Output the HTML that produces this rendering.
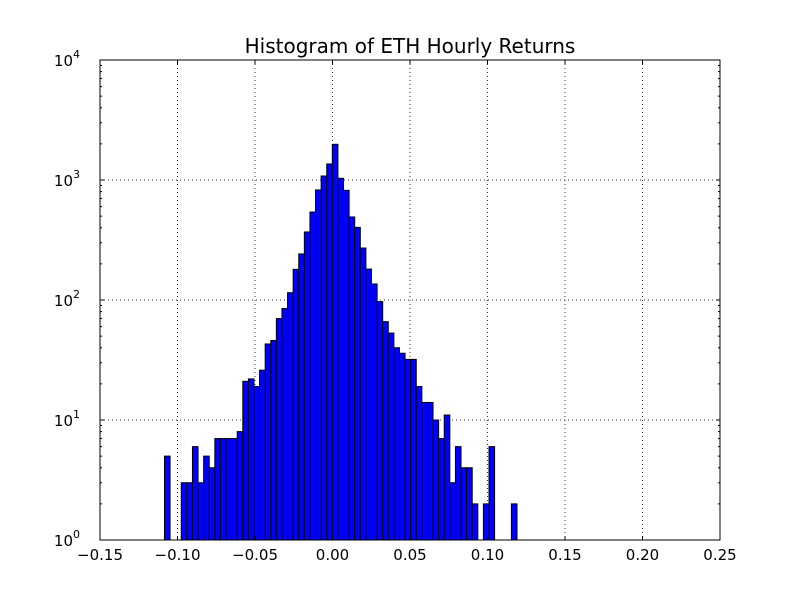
<!DOCTYPE html>
<html><head><meta charset="utf-8"><style>
body{margin:0;background:#fff;}
svg{display:block;font-family:"DejaVu Sans","Liberation Sans",sans-serif;}
</style></head><body>
<svg id="chart" width="800" height="600" viewBox="0 0 800 600" xmlns="http://www.w3.org/2000/svg">
<rect width="800" height="600" fill="#fff"/>
<text x="410" y="53" text-anchor="middle" font-size="20">Histogram of ETH Hourly Returns</text>
<g id="grid"></g><g id="bars"></g><g id="ticks"></g>
<rect x="100" y="60" width="620" height="480" fill="none" stroke="#000" stroke-width="1"/>
</svg>
<script>
const binStart = -0.1409;
const binWidth = 0.00361;
const counts = [1,0,1,0,1,0,1,0,0,5,0,1,3,3,6,3,5,4,7,7,7,7,8,21,22,19,26,43,46,70,85,115,180,242,369,541,826,1080,1360,1983,1033,820,492,403,271,181,136,97,66,53,40,36,32,32,19,14,14,10,7,11,3,6,4,4,2,0,2,6,0,0,0,2,0,0,1,1,0,0,1,0,0,0,1,0,0,0,0,0,0,0,0,0,0,0,0,0,0,0,0,1];
const xTicks = [-0.15,-0.10,-0.05,0.00,0.05,0.10,0.15,0.20,0.25];
const xTickLabels = ["−0.15","−0.10","−0.05","0.00","0.05","0.10","0.15","0.20","0.25"];
const yExps = [0,1,2,3,4];

const NS="http://www.w3.org/2000/svg";
const L=100,R=720,T=60,B=540;
const xMin=-0.15,xMax=0.25;
function xs(v){return L+(v-xMin)/(xMax-xMin)*(R-L);}
function ys(v){return B-(Math.log10(v)-0)/4*(B-T);}
function mk(tag,attrs,parent){const e=document.createElementNS(NS,tag);for(const k in attrs)e.setAttribute(k,attrs[k]);parent.appendChild(e);return e;}
const grid=document.getElementById('grid'),bars=document.getElementById('bars'),ticks=document.getElementById('ticks');

xTicks.forEach((v,i)=>{
  const x=xs(v);
  if(i>0&&i<xTicks.length-1){
    const g=mk('line',{x1:x,x2:x,y1:T,y2:B,stroke:'#000','stroke-dasharray':'1,3','stroke-width':0.8},grid);
    
    
  }
  mk('line',{x1:x,x2:x,y1:B,y2:B-4,stroke:'#000'},ticks);
  mk('line',{x1:x,x2:x,y1:T,y2:T+4,stroke:'#000'},ticks);
  const t=mk('text',{x:x,y:B+20,'text-anchor':'middle','font-size':15},ticks);
  t.textContent=xTickLabels[i];
  
  
});

yExps.forEach((e,i)=>{
  const y=ys(Math.pow(10,e));
  if(i>0&&i<yExps.length-1){
    const g=mk('line',{x1:L,x2:R,y1:y,y2:y,stroke:'#000','stroke-dasharray':'1,3','stroke-width':0.8},grid);
    
    
  }
  mk('line',{x1:L,x2:L+4,y1:y,y2:y,stroke:'#000'},ticks);
  mk('line',{x1:R,x2:R-4,y1:y,y2:y,stroke:'#000'},ticks);
  if(i<yExps.length-1){
    for(let m=2;m<10;m++){
      const yy=ys(m*Math.pow(10,e));
      mk('line',{x1:L,x2:L+2,y1:yy,y2:yy,stroke:'#000'},ticks);
      mk('line',{x1:R,x2:R-2,y1:yy,y2:yy,stroke:'#000'},ticks);
    }
  }
  const t=mk('text',{x:L-20,y:y+6,'text-anchor':'end','font-size':15},ticks);
  
  
  t.appendChild(document.createTextNode('10'));
  const s=mk('tspan',{dy:-8,'font-size':11},t);
  s.textContent=String(e);
});

counts.forEach((c,i)=>{
  if(c<1)return;
  const x0=xs(binStart+i*binWidth),x1=xs(binStart+(i+1)*binWidth);
  const y=ys(c);
  const r=mk('rect',{x:x0,y:y,width:x1-x0,height:B-y,fill:'#0000ff',stroke:'#000','stroke-width':1},bars);
  
  
});
</script>
</body></html>
